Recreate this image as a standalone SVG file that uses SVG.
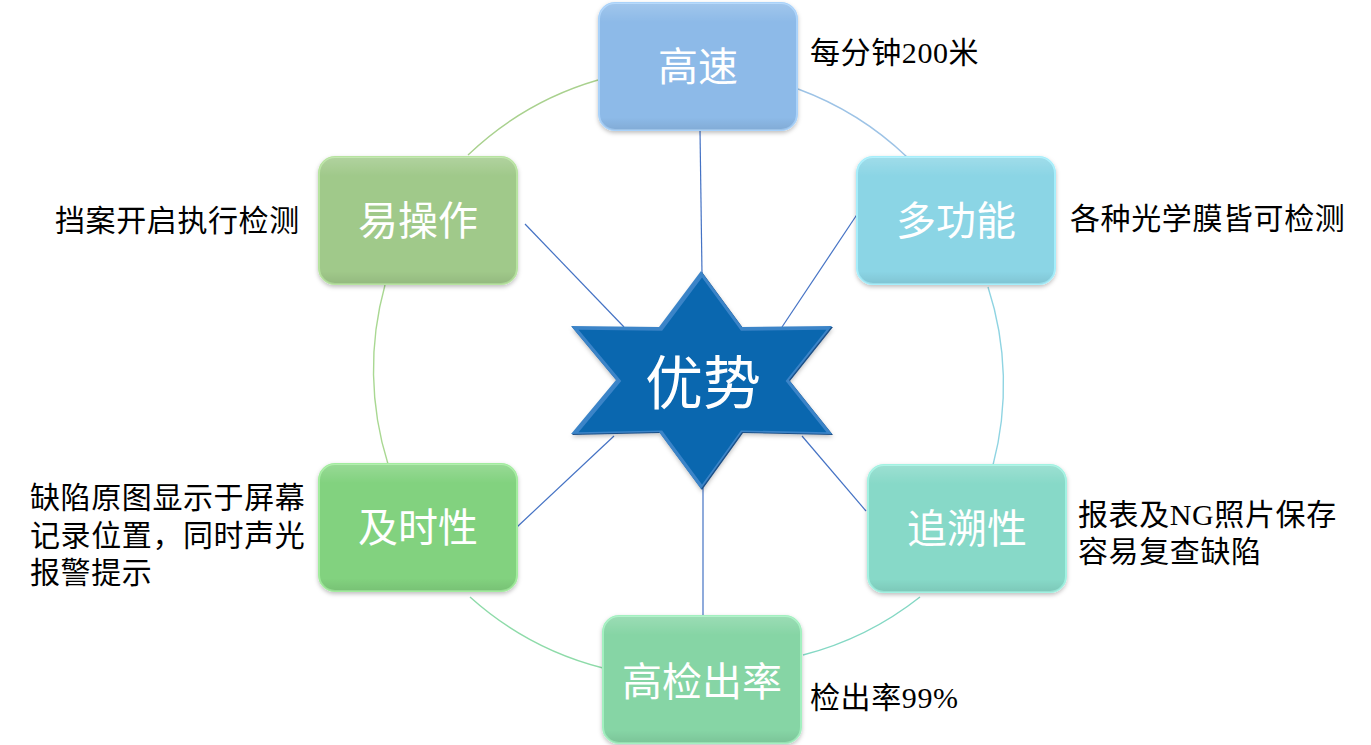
<svg xmlns="http://www.w3.org/2000/svg" width="1371" height="745" viewBox="0 0 1371 745">
<defs>
<style>
.box{stroke-width:2}
.lbl{font-family:"Liberation Serif","Noto Sans CJK SC",serif;font-size:40px;fill:#fff;text-anchor:middle}
.note{font-family:"Liberation Serif","Noto Sans CJK SC",serif;font-size:30px;fill:#000;letter-spacing:0.6px}
.conn{stroke:#4472C4;stroke-width:1.2;fill:none}
.arc{fill:none;stroke-width:1.4}
</style>
<filter id="sh" x="-10%" y="-10%" width="120%" height="125%">
<feDropShadow dx="0" dy="2" stdDeviation="2" flood-color="#000" flood-opacity="0.25"/>
</filter>
<linearGradient id="gloss" x1="0" y1="0" x2="0" y2="1">
<stop offset="0" stop-color="#fff" stop-opacity="0.18"/>
<stop offset="0.15" stop-color="#fff" stop-opacity="0"/>
<stop offset="0.9" stop-color="#000" stop-opacity="0"/>
<stop offset="1" stop-color="#000" stop-opacity="0.08"/>
</linearGradient>
</defs>
<rect width="1371" height="745" fill="#fff"/>

<g id="connectors">
<path class="arc" stroke="#A9D18E" d="M598,80 A315,315 0 0 0 468,155"/>
<path class="arc" stroke="#9DC3E6" d="M798,89 A315,315 0 0 1 907,157"/>
<path class="arc" stroke="#8FD4E2" d="M988,287 A315,315 0 0 1 993,465"/>
<path class="arc" stroke="#84D8C4" d="M920,597 A315,315 0 0 1 803,655"/>
<path class="arc" stroke="#8EDBA9" d="M603,668 A315,315 0 0 1 470,597"/>
<path class="arc" stroke="#A9D892" d="M388,464 A315,315 0 0 1 385,285"/>
<line class="conn" x1="700" y1="130" x2="702" y2="274"/>
<line class="conn" x1="525" y1="224" x2="624" y2="327"/>
<line class="conn" x1="858" y1="213" x2="782" y2="327"/>
<line class="conn" x1="517" y1="527" x2="614" y2="436"/>
<line class="conn" x1="866" y1="511" x2="802" y2="436"/>
<line class="conn" x1="703" y1="488" x2="703" y2="616"/>
</g>

<g id="center">
<polygon points="702,272 743,328 833,327 790,381 833,435 743,433 702,490 660,433 572,435 617,381 572,327 660,328" fill="#1B4F86" filter="url(#sh)"/>
<polygon points="702,272 743,328 833,327 790,381 833,435 743,433 702,490 660,433 572,435 617,381 572,327 660,328" fill="#3B84C8" transform="translate(-1,-1)"/>
<polygon points="702,272 743,328 833,327 790,381 833,435 743,433 702,490 660,433 572,435 617,381 572,327 660,328" fill="#0A67AF" transform="translate(702.5,381) scale(0.95) translate(-702.5,-381)"/>
<text x="703" y="404" style="font-family:'Liberation Serif','Noto Sans CJK SC',serif;font-size:58px;fill:#fff;text-anchor:middle">优势</text>
</g>

<g id="n-gaosu">
<rect class="box" x="599" y="3" width="198" height="127" rx="16" fill="#8DBAE8" stroke="#A9D2FA" filter="url(#sh)"/>
<rect x="599" y="3" width="198" height="127" rx="16" fill="url(#gloss)"/>
<text class="lbl" x="698" y="81">高速</text>
</g>
<g id="n-yicaozuo">
<rect class="box" x="319" y="157" width="198" height="127" rx="16" fill="#A0C98A" stroke="#B7E3A0" filter="url(#sh)"/>
<rect x="319" y="157" width="198" height="127" rx="16" fill="url(#gloss)"/>
<text class="lbl" x="418" y="235">易操作</text>
</g>
<g id="n-duogongneng">
<rect class="box" x="857" y="157" width="198" height="127" rx="16" fill="#8BD5E5" stroke="#A6EEFB" filter="url(#sh)"/>
<rect x="857" y="157" width="198" height="127" rx="16" fill="url(#gloss)"/>
<text class="lbl" x="956" y="235">多功能</text>
</g>
<g id="n-jishixing">
<rect class="box" x="319" y="464" width="198" height="127" rx="16" fill="#82D27F" stroke="#A2EC9E" filter="url(#sh)"/>
<rect x="319" y="464" width="198" height="127" rx="16" fill="url(#gloss)"/>
<text class="lbl" x="418" y="542">及时性</text>
</g>
<g id="n-zhuisuxing">
<rect class="box" x="868" y="465" width="198" height="127" rx="16" fill="#87D9C8" stroke="#A2F2E2" filter="url(#sh)"/>
<rect x="868" y="465" width="198" height="127" rx="16" fill="url(#gloss)"/>
<text class="lbl" x="967" y="543">追溯性</text>
</g>
<g id="n-gaojianchulv">
<rect class="box" x="603" y="616" width="198" height="127" rx="16" fill="#86D5A5" stroke="#A3F0C0" filter="url(#sh)"/>
<rect x="603" y="616" width="198" height="127" rx="16" fill="url(#gloss)"/>
<text class="lbl" x="702" y="696">高检出率</text>
</g>

<g id="notes">
<text class="note" x="810" y="63">每分钟200米</text>
<text class="note" x="55" y="231">挡案开启执行检测</text>
<text class="note" x="1070" y="229">各种光学膜皆可检测</text>
<text class="note" x="30" y="508">缺陷原图显示于屏幕</text>
<text class="note" x="30" y="546">记录位置，同时声光</text>
<text class="note" x="30" y="583">报警提示</text>
<text class="note" x="1078" y="525">报表及NG照片保存</text>
<text class="note" x="1078" y="562">容易复查缺陷</text>
<text class="note" x="810" y="708">检出率99%</text>
</g>
</svg>
